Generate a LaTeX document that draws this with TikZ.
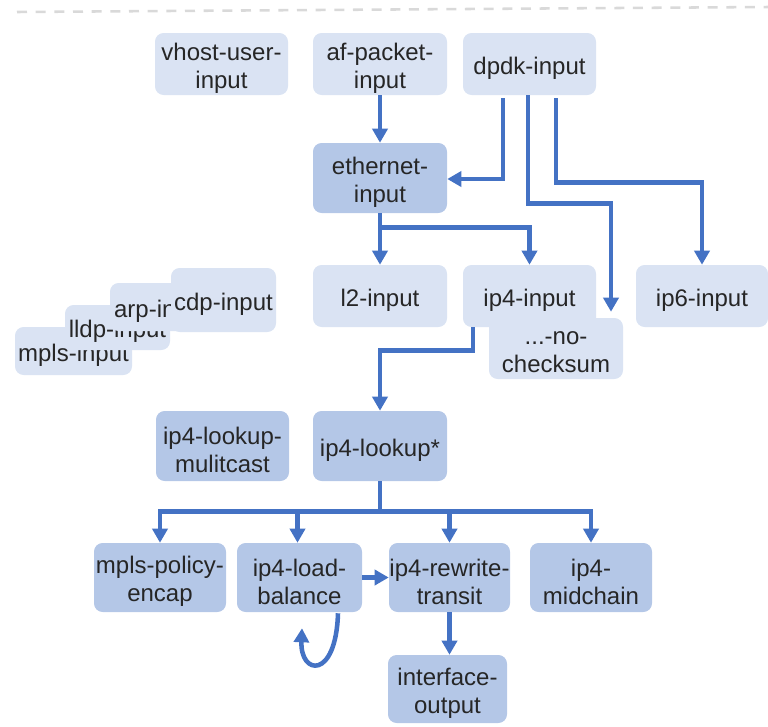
\documentclass[tikz,border=0pt]{standalone}
\usepackage{fontspec}
\setmainfont{Liberation Sans}
\usetikzlibrary{arrows.meta,calc}
\definecolor{boxlight}{HTML}{DAE3F3}
\definecolor{boxdark}{HTML}{B4C7E7}
\definecolor{wire}{HTML}{4472C4}
\definecolor{ink}{HTML}{262626}
\definecolor{rule}{HTML}{D9D9D9}
\begin{document}
\begin{tikzpicture}[x=0.75pt,y=-0.75pt,
  nodebox/.style={rounded corners=6.5pt,inner sep=0pt},
  lightbox/.style={nodebox,fill=boxlight},
  darkbox/.style={nodebox,fill=boxdark},
  txt/.style={inner sep=0pt,align=center,text=ink,yshift=-3pt,
    font=\fontsize{18pt}{21pt}\selectfont},
  sz/.style 2 args={minimum width=#1*0.75pt,minimum height=#2*0.75pt},
  arr/.style={draw=wire,line width=3.4pt,
    -{Triangle[width=11.25pt,length=10.5pt]}}]
\useasboundingbox (0,0) rectangle (768,726);

% separator rule along the top
\draw[rule,line width=1.9pt,dash pattern=on 7.5pt off 6.5pt] (17,12) -- (768,7);

% input nodes
\node[lightbox,sz={133}{62},label={[txt]center:{vhost-user-\\input}}] (vhost) at (221.5,64) {};
\node[lightbox,sz={134}{62},label={[txt]center:{af-packet-\\input}}] (afp) at (380,64) {};
\node[lightbox,sz={133}{62},label={[txt]center:{dpdk-input}}] (dpdk) at (529.5,64) {};

\node[darkbox,sz={134}{70},label={[txt]center:{ethernet-\\input}}] (eth) at (380,178) {};

\node[lightbox,sz={134}{62},label={[txt]center:{l2-input}}] (l2) at (380,296) {};
\node[lightbox,sz={133}{62},label={[txt]center:{ip4-input}}] (ip4in) at (529.5,296) {};
\node[lightbox,sz={134}{61},label={[txt]center:{...-no-\\checksum}}] (nocs) at (556,348.5) {};
\node[lightbox,sz={132}{62},label={[txt]center:{ip6-input}}] (ip6) at (702,296) {};

% stacked protocol inputs, each covering the one before
\node[lightbox,sz={117}{48},label={[txt]center:{mpls-input}}] (mplsin) at (73.5,351) {};
\node[lightbox,sz={105}{45},label={[txt]center:{lldp-input}}] (lldp) at (117.5,327.5) {};
\node[lightbox,sz={103}{48},label={[txt]center:{arp-input}}] (arp) at (161.5,307) {};
\node[lightbox,sz={105}{64},label={[txt]center:{cdp-input}}] (cdp) at (223.5,300) {};

% lookup stage
\node[darkbox,sz={133}{70},label={[txt]center:{ip4-lookup-\\mulitcast}}] (mcast) at (222.5,446) {};
\node[darkbox,sz={134}{70},label={[txt]center:{ip4-lookup*}}] (lookup) at (380,446) {};

% output stage
\node[darkbox,sz={132}{69},label={[txt]center:{mpls-policy-\\encap}}] (mpe) at (160,577.5) {};
\node[darkbox,sz={125}{69},label={[txt]center:{ip4-load-\\balance}}] (lb) at (299.5,577.5) {};
\node[darkbox,sz={121}{69},label={[txt]center:{ip4-rewrite-\\transit}}] (rw) at (449.5,577.5) {};
\node[darkbox,sz={122}{69},label={[txt]center:{ip4-\\midchain}}] (mid) at (591,577.5) {};
\node[darkbox,sz={119}{68},label={[txt]center:{interface-\\output}}] (ifo) at (447.5,689) {};

% connectors
\draw[arr] (afp.south) -- (eth.north);
\draw[arr] ($(dpdk.south)+(-26.5,3)$) |- ($(eth.east)+(0,1)$);
\draw[arr,shorten >=4.5pt] ($(dpdk.south)+(-1.5,0)$) -- ++(0,108) -| ($(nocs.north)+(55,0)$);
\draw[arr] ($(dpdk.south)+(26.5,3)$) -- ++(0,84) -| (ip6.north);

\draw[arr] (eth.south) -- (l2.north);
\draw[arr] ($(eth.south)+(0,14)$) -| (ip4in.north);

\draw[arr] ($(ip4in.south)+(-56.5,0)$) -- ++(0,23) -| (lookup.north);

\draw[arr] (lookup.south) -- ++(0,30) -| (mpe.north);
\draw[arr] (lookup.south) -- ++(0,30) -| ($(lb.north)+(-2,0)$);
\draw[arr] (lookup.south) -- ++(0,30) -| (rw.north);
\draw[arr] (lookup.south) -- ++(0,30) -| (mid.north);

\draw[arr] (lb.east) -- (rw.west);
\draw[arr] (rw.south) -- (rw.south |- ifo.north);

% ip4-load-balance feeds back into itself
\draw[arr] ($(lb.south)+(38.5,1)$) .. controls ($(lb.south)+(36.5,68)$)
  and ($(lb.south)+(0.5,63)$) .. ($(lb.south)+(2.5,16)$);
\end{tikzpicture}
\end{document}
